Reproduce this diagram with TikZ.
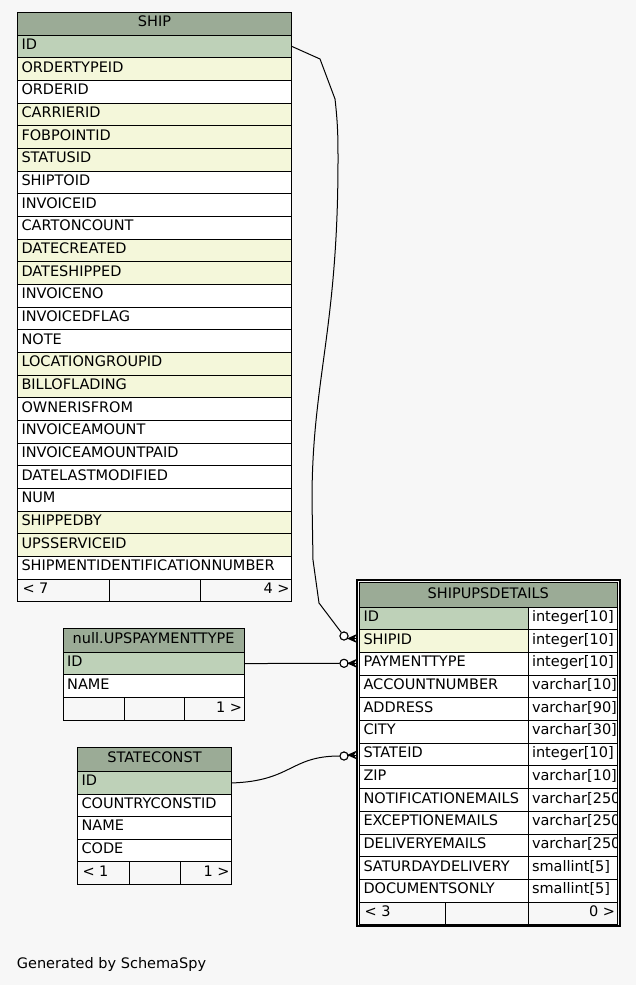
\documentclass[tikz,border=0pt]{standalone}
\usepackage{fontspec}
\setmainfont{DejaVu Sans}
\definecolor{bg}{HTML}{F7F7F7}
\definecolor{hd}{HTML}{9BAB96}
\definecolor{pk}{HTML}{BED1B8}
\definecolor{fk}{HTML}{F4F7DA}
\definecolor{wt}{HTML}{FFFFFF}
\begin{document}
\begin{tikzpicture}[x=1pt,y=-1pt,
  cellbox/.style={draw=black,line width=1pt,inner sep=0pt,outer sep=0pt,rectangle,anchor=north west},
  celltext/.style={anchor=base west,inner sep=0pt,font=\fontsize{14.5}{16}\selectfont},
  righttext/.style={anchor=base east,inner sep=0pt,font=\fontsize{14.5}{16}\selectfont},
  headtext/.style={anchor=base,inner sep=0pt,font=\fontsize{14.5}{16}\selectfont},
  odot/.style={circle,draw=black,line width=1pt,fill=white,minimum size=8pt,inner sep=0pt},
  rel/.style={draw=black,line width=1pt},
  crowfoot/.pic={\fill[black] (-10,0) -- (0,-4.5) -- (-3,0) -- (0,4.5) -- cycle;
                 \draw[line width=1pt] (-10,0) -- (0,0);}
]
\fill[bg] (0,0) rectangle (636,985);
\useasboundingbox (0,0) rectangle (636,985);

% ---------------- SHIP ----------------
\node[cellbox,fill=hd,minimum width=274.4pt,minimum height=23pt] (ship) at (17.3,12) {};
\node[headtext] at ([yshift=9pt]ship.south) {SHIP};
\foreach \t/\c [count=\i from 0] in {ID/pk, ORDERTYPEID/fk, ORDERID/wt, CARRIERID/fk, FOBPOINTID/fk, STATUSID/fk, SHIPTOID/wt, INVOICEID/wt, CARTONCOUNT/wt, DATECREATED/fk, DATESHIPPED/fk, INVOICENO/wt, INVOICEDFLAG/wt, NOTE/wt, LOCATIONGROUPID/fk, BILLOFLADING/fk, OWNERISFROM/wt, INVOICEAMOUNT/wt, INVOICEAMOUNTPAID/wt, DATELASTMODIFIED/wt, NUM/wt, SHIPPEDBY/fk, UPSSERVICEID/fk, SHIPMENTIDENTIFICATIONNUMBER/wt}{
  \node[cellbox,fill=\c,minimum width=274.4pt,minimum height=22.67pt] (ship-\i) at (17.3,{35+22.67*\i}) {};
  \node[celltext] at ([xshift=4pt,yshift=8.3pt]ship-\i.south west) {\t};
}
\node[cellbox,fill=bg,minimum width=92pt,minimum height=22pt] (shipf1) at (17.3,579) {};
\node[cellbox,fill=bg,minimum width=91pt,minimum height=22pt] (shipf2) at (109.3,579) {};
\node[cellbox,fill=bg,minimum width=91.4pt,minimum height=22pt] (shipf3) at (200.3,579) {};
\node[celltext] at ([xshift=5pt,yshift=8pt]shipf1.south west) {< 7};
\node[righttext] at ([xshift=-2pt,yshift=8pt]shipf3.south east) {4 >};

% ---------------- UPSPAYMENTTYPE ----------------
\node[cellbox,fill=hd,minimum width=181.3pt,minimum height=24pt] (ups) at (63,628.3) {};
\node[headtext] at ([yshift=9pt]ups.south) {null.UPSPAYMENTTYPE};
\foreach \t/\c [count=\i from 0] in {ID/pk, NAME/wt}{
  \node[cellbox,fill=\c,minimum width=181.3pt,minimum height=22.5pt] (ups-\i) at (63,{652.3+22.5*\i}) {};
  \node[celltext] at ([xshift=4pt,yshift=8.3pt]ups-\i.south west) {\t};
}
\node[cellbox,fill=bg,minimum width=61.3pt,minimum height=22.7pt] (upsf1) at (63,697.3) {};
\node[cellbox,fill=bg,minimum width=60pt,minimum height=22.7pt] (upsf2) at (124.3,697.3) {};
\node[cellbox,fill=bg,minimum width=60pt,minimum height=22.7pt] (upsf3) at (184.3,697.3) {};
\node[righttext] at ([xshift=-2pt,yshift=8pt]upsf3.south east) {1 >};

% ---------------- STATECONST ----------------
\node[cellbox,fill=hd,minimum width=154.4pt,minimum height=24.4pt] (state) at (77.3,747.3) {};
\node[headtext] at ([yshift=9pt]state.south) {STATECONST};
\foreach \t/\c [count=\i from 0] in {ID/pk, COUNTRYCONSTID/wt, NAME/wt, CODE/wt}{
  \node[cellbox,fill=\c,minimum width=154.4pt,minimum height=22.5pt] (state-\i) at (77.3,{771.7+22.5*\i}) {};
  \node[celltext] at ([xshift=4pt,yshift=8.3pt]state-\i.south west) {\t};
}
\node[cellbox,fill=bg,minimum width=52pt,minimum height=22.3pt] (statef1) at (77.3,861.7) {};
\node[cellbox,fill=bg,minimum width=51pt,minimum height=22.3pt] (statef2) at (129.3,861.7) {};
\node[cellbox,fill=bg,minimum width=51.4pt,minimum height=22.3pt] (statef3) at (180.3,861.7) {};
\node[celltext] at ([xshift=5pt,yshift=8pt]statef1.south west) {< 1};
\node[righttext] at ([xshift=-2pt,yshift=8pt]statef3.south east) {1 >};

% ---------------- SHIPUPSDETAILS ----------------
\node[cellbox,fill=hd,minimum width=258pt,minimum height=24.7pt] (det) at (359.3,582.3) {};
\node[headtext] at ([yshift=9pt]det.south) {SHIPUPSDETAILS};
\foreach \t/\ty/\c [count=\i from 0] in {ID/integer[10]/pk, SHIPID/integer[10]/fk, PAYMENTTYPE/integer[10]/wt, ACCOUNTNUMBER/varchar[10]/wt, ADDRESS/varchar[90]/wt, CITY/varchar[30]/wt, STATEID/integer[10]/wt, ZIP/varchar[10]/wt, NOTIFICATIONEMAILS/varchar[250]/wt, EXCEPTIONEMAILS/varchar[250]/wt, DELIVERYEMAILS/varchar[250]/wt, SATURDAYDELIVERY/smallint[5]/wt, DOCUMENTSONLY/smallint[5]/wt}{
  \node[cellbox,fill=\c,minimum width=169pt,minimum height=22.7pt] (det-\i) at (359.3,{607+22.7*\i}) {};
  \node[celltext] at ([xshift=4pt,yshift=8.3pt]det-\i.south west) {\t};
  \node[cellbox,fill=wt,minimum width=89pt,minimum height=22.7pt] (dett-\i) at (528.3,{607+22.7*\i}) {};
  \begin{scope}
    \clip (dett-\i.north west) rectangle (dett-\i.south east);
    \node[celltext] at ([xshift=3.5pt,yshift=8.3pt]dett-\i.south west) {\ty};
  \end{scope}
}
\node[cellbox,fill=bg,minimum width=85.7pt,minimum height=22pt] (detf1) at (359.3,902.1) {};
\node[cellbox,fill=bg,minimum width=83.3pt,minimum height=22pt] (detf2) at (445,902.1) {};
\node[cellbox,fill=bg,minimum width=89pt,minimum height=22pt] (detf3) at (528.3,902.1) {};
\node[celltext] at ([xshift=5pt,yshift=8pt]detf1.south west) {< 3};
\node[righttext] at ([xshift=-2pt,yshift=8pt]detf3.south east) {0 >};
% double border
\draw[line width=1pt] (det.north west) rectangle (detf3.south east);
\draw[line width=2pt] (357,580.3) rectangle (619.7,926.4);

% ---------------- relationships ----------------
\node[odot] (o1) at (344,636) {};
\node[odot] (o2) at (344,663.3) {};
\node[odot] (o3) at (344,756) {};

\draw[rel] (ship-0.east) -- (320,59) -- (335,99)
  .. controls (338,125) and (338,140) .. (338,160)
  .. controls (338,330) and (312,380) .. (312,500)
  -- (313,560) -- (319,603) -- (o1);
\draw[rel] (ups-0.east) -- (o2);
\draw[rel] (state-0.east) .. controls (292,781) and (290,756) .. (o3);

\node[odot] at (o1) {};
\node[odot] at (o2) {};
\node[odot] at (o3) {};
\pic at (357,638.5) {crowfoot};
\pic at (357,663.3) {crowfoot};
\pic at (357,755) {crowfoot};

\node[celltext] (gen) at (16.7,968) {Generated by SchemaSpy};
\end{tikzpicture}
\end{document}
